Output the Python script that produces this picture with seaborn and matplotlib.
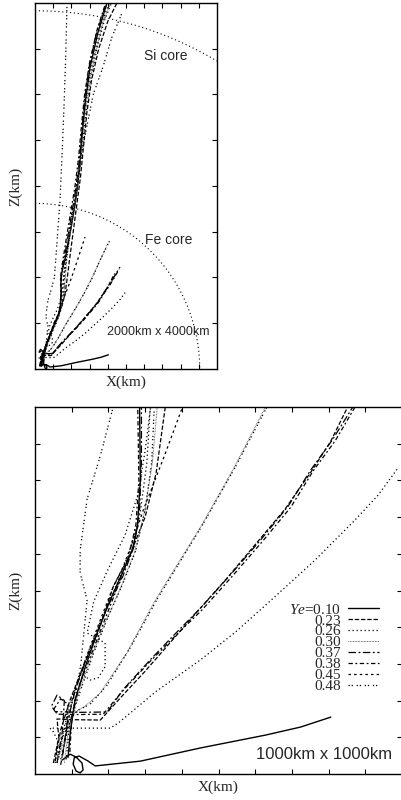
import numpy as np
import seaborn as sns
import matplotlib.pyplot as plt
from matplotlib.lines import Line2D

sns.set_style("ticks")
plt.rcParams['font.family'] = ['Liberation Serif', 'DejaVu Serif']
plt.rcParams['mathtext.fontset'] = 'custom'
plt.rcParams['mathtext.it'] = 'Liberation Serif:italic'
plt.rcParams['mathtext.rm'] = 'Liberation Serif'

# electron fractions shown in the legend
ye_values = ['0.10', '0.23', '0.26', '0.30', '0.37', '0.38', '0.45', '0.48']

# core radii (km)
fe_core_radius = 1810
si_core_radius = 3915

# particle trajectories, x and z in km
main_010_x = [90, 96, 109, 137, 169, 205, 238, 265, 279, 287, 285, 305, 335, 370, 405, 440, 468, 490, 520, 555, 606, 690, 791]
main_010_z = [45, 112, 202, 292, 384, 474, 548, 610, 673, 801, 1000, 1100, 1224, 1400, 1596, 1800, 2000, 2208, 2579, 2940, 3301, 3672, 4000]

low_010_x = [74, 96, 112, 128, 131, 123, 112, 104, 107, 120, 145, 164, 287, 451, 628, 724, 806]
low_010_z = [38, 54, 46, 30, 11, 3, 8, 27, 44, 49, 35, 22, 35, 71, 106, 128, 155]

fan_037_x = [60, 75, 80, 60, 45, 55, 120, 197, 240, 314, 380, 451, 530, 615, 690, 751, 810, 866, 900, 934]
fan_037_z = [30, 120, 200, 215, 185, 170, 168, 169, 230, 311, 380, 452, 540, 638, 730, 828, 910, 1000, 1060, 1115]

fan_038_x = [70, 85, 90, 70, 52, 60, 120, 186, 235, 310, 378, 455, 535, 620, 697, 758, 818, 872, 925]
fan_038_z = [25, 110, 190, 205, 178, 163, 162, 163, 222, 303, 372, 447, 536, 634, 727, 826, 908, 1000, 1090]

fan_023_x = [50, 65, 60, 100, 178, 235, 300, 370, 440, 520, 600, 680, 750, 805, 852, 880]
fan_023_z = [30, 100, 150, 148, 147, 210, 280, 360, 440, 530, 625, 720, 820, 905, 1000, 1045]

fan_026_x = [55, 62, 50, 41, 120, 205, 227, 330, 451, 550, 647, 760, 870, 935, 990]
fan_026_z = [30, 90, 115, 125, 125, 125, 139, 225, 311, 390, 477, 580, 690, 760, 835]

fan_030_x = [70, 90, 110, 137, 178, 250, 328, 451, 540, 628, 720, 800]
fan_030_z = [60, 130, 170, 185, 221, 330, 474, 673, 830, 1000, 1200, 1370]

fan_048_x = [60, 85, 120, 150, 195, 260, 335, 455, 545, 632, 725, 824]
fan_048_z = [50, 140, 175, 190, 240, 345, 480, 676, 835, 1000, 1210, 1410]

fan_045_x = [82, 101, 137, 178, 213, 240, 268, 295, 350, 402, 470, 550]
fan_045_z = [93, 202, 311, 420, 510, 564, 638, 719, 860, 1000, 1200, 1443]

left_048_x = [60, 75, 100, 125, 142, 123, 123, 142, 178, 213, 230, 250, 275, 300, 320, 337, 352]
left_048_z = [30, 100, 150, 300, 474, 548, 610, 749, 867, 1000, 1224, 1500, 1850, 2400, 2900, 3400, 4000]

hook_026_x = [70, 90, 110, 131, 150, 172, 191, 191, 142, 160, 200, 245, 280, 300, 315, 340, 380, 430, 480, 520, 560, 610, 680, 760, 840]
hook_026_z = [40, 120, 200, 270, 256, 262, 292, 357, 384, 470, 560, 650, 760, 880, 1000, 1200, 1450, 1750, 2100, 2450, 2800, 3150, 3500, 3800, 4000]

jet_023_x = [55, 70, 95, 130, 170, 213, 260, 300, 330, 355, 380, 420, 460, 500, 535, 570, 620, 700, 800, 900]
jet_023_z = [35, 120, 200, 290, 380, 510, 600, 700, 820, 1000, 1200, 1500, 1800, 2100, 2450, 2800, 3150, 3500, 3800, 4000]

jet_030_x = [80, 90, 115, 150, 190, 230, 270, 300, 320, 333, 350, 390, 440, 480, 515, 550, 600, 675, 750, 830]
jet_030_z = [30, 110, 210, 310, 410, 500, 600, 720, 850, 1000, 1200, 1500, 1800, 2100, 2450, 2800, 3150, 3500, 3800, 4000]

jet_026_x = [65, 80, 105, 140, 180, 220, 255, 285, 305, 314, 335, 375, 425, 470, 505, 540, 590, 665, 740, 815]
jet_026_z = [45, 130, 220, 320, 420, 510, 600, 700, 850, 1000, 1200, 1500, 1800, 2100, 2450, 2800, 3150, 3500, 3800, 4000]

jet_037_x = [75, 88, 110, 150, 195, 240, 270, 285, 290, 290, 310, 345, 395, 445, 485, 515, 545, 595, 670, 760, 800]
jet_037_z = [50, 140, 230, 340, 450, 540, 620, 720, 850, 1000, 1150, 1350, 1650, 1950, 2250, 2600, 2950, 3300, 3650, 3930, 4000]

jet_038_x = [95, 100, 120, 155, 190, 225, 255, 275, 283, 280, 300, 340, 390, 440, 478, 510, 545, 600, 680, 760, 785]
jet_038_z = [60, 150, 240, 330, 420, 510, 590, 680, 800, 1000, 1150, 1400, 1700, 2000, 2300, 2650, 3000, 3350, 3700, 3950, 4000]

jet_048_x = [85, 95, 125, 160, 200, 240, 275, 300, 318, 325, 345, 385, 435, 480, 520, 560, 640, 747, 846, 956]
jet_048_z = [40, 140, 230, 330, 430, 520, 610, 720, 850, 1000, 1200, 1500, 1800, 2100, 2400, 2600, 3000, 3301, 3629, 3891]

tracks = [
    (main_010_x, main_010_z, '0.10'),
    (low_010_x, low_010_z, '0.10'),
    (fan_037_x, fan_037_z, '0.37'),
    (fan_038_x, fan_038_z, '0.38'),
    (fan_023_x, fan_023_z, '0.23'),
    (fan_026_x, fan_026_z, '0.26'),
    (fan_030_x, fan_030_z, '0.30'),
    (fan_048_x, fan_048_z, '0.48'),
    (fan_045_x, fan_045_z, '0.45'),
    (left_048_x, left_048_z, '0.48'),
    (hook_026_x, hook_026_z, '0.26'),
    (jet_023_x, jet_023_z, '0.23'),
    (jet_030_x, jet_030_z, '0.30'),
    (jet_026_x, jet_026_z, '0.26'),
    (jet_037_x, jet_037_z, '0.37'),
    (jet_038_x, jet_038_z, '0.38'),
    (jet_048_x, jet_048_z, '0.48'),
]

# gnuplot-like line types
styles = {
    '0.10': dict(linestyle='-', lw=1.0, color='k'),
    '0.23': dict(linestyle=(0, (3.5, 1.5)), lw=0.9, color='k'),
    '0.26': dict(linestyle=(0, (1, 2.2)), lw=0.9, color='k'),
    '0.30': dict(linestyle=(0, (0.8, 0.8)), lw=0.7, color='0.35'),
    '0.37': dict(linestyle=(0, (6, 2, 1.5, 2)), lw=0.9, color='k'),
    '0.38': dict(linestyle=(0, (3.5, 2, 1.5, 2)), lw=0.9, color='k'),
    '0.45': dict(linestyle=(0, (2, 2.5)), lw=0.9, color='k'),
    '0.48': dict(linestyle=(0, (1, 1.5, 1, 3)), lw=0.9, color='k'),
}


def draw_tracks(ax):
    for xs, zs, ye in tracks:
        sns.lineplot(x=xs, y=zs, sort=False, estimator=None, ax=ax, **styles[ye])


def dress(ax, xmax, zmax, xstep, zstep):
    ax.set_xlim(0, xmax)
    ax.set_ylim(0, zmax)
    ax.set_xticks(np.arange(xstep, xmax, xstep))
    ax.set_yticks(np.arange(zstep, zmax, zstep))
    ax.tick_params(direction='in', length=3.5, width=0.8, top=True, right=True,
                   labelbottom=False, labelleft=False, color='k')
    for sp in ax.spines.values():
        sp.set_color('k')
        sp.set_linewidth(1.0)
    ax.set_xlabel('X(km)', fontsize=11, labelpad=5)
    ax.set_ylabel('Z(km)', fontsize=11, labelpad=9)


fig = plt.figure(figsize=(4.01, 8.0), dpi=100)
ax_top = fig.add_axes([35 / 401, 1 - 369 / 800, 182 / 401, 366 / 800])
ax_bot = fig.add_axes([35 / 401, 1 - 774 / 800, 367 / 401, 367 / 800])

# top panel: 2000 km x 4000 km
draw_tracks(ax_top)
theta = np.linspace(0, np.pi / 2, 200)
for r in (fe_core_radius, si_core_radius):
    sns.lineplot(x=r * np.sin(theta), y=r * np.cos(theta), sort=False, estimator=None,
                 ax=ax_top, color='k', lw=0.8, linestyle=(0, (1, 2.5)))
ax_top.text(1198, 3421, 'Si core', family='Liberation Sans', fontsize=10, va='center')
ax_top.text(1209, 1410, 'Fe core', family='Liberation Sans', fontsize=10, va='center')
ax_top.text(791, 404, '2000km x 4000km', family='Liberation Sans', fontsize=9, va='center')
dress(ax_top, 2000, 4000, 200, 500)

# bottom panel: 1000 km x 1000 km zoom
draw_tracks(ax_bot)
ax_bot.text(601, 52, '1000km x 1000km', family='Liberation Sans', fontsize=12, va='center')
dress(ax_bot, 1000, 1000, 100, 100)

handles = [Line2D([], [], **styles[ye]) for ye in ye_values]
labels = ['$Ye$=' + ye_values[0]] + ye_values[1:]
ax_bot.legend(handles, labels, loc='upper right', bbox_to_anchor=(0.937, 0.467),
              frameon=False, markerfirst=False, fontsize=11, borderpad=0,
              borderaxespad=0, labelspacing=-0.18, handlelength=2.0,
              handletextpad=0.5)

fig.savefig('out.png', dpi=100)
